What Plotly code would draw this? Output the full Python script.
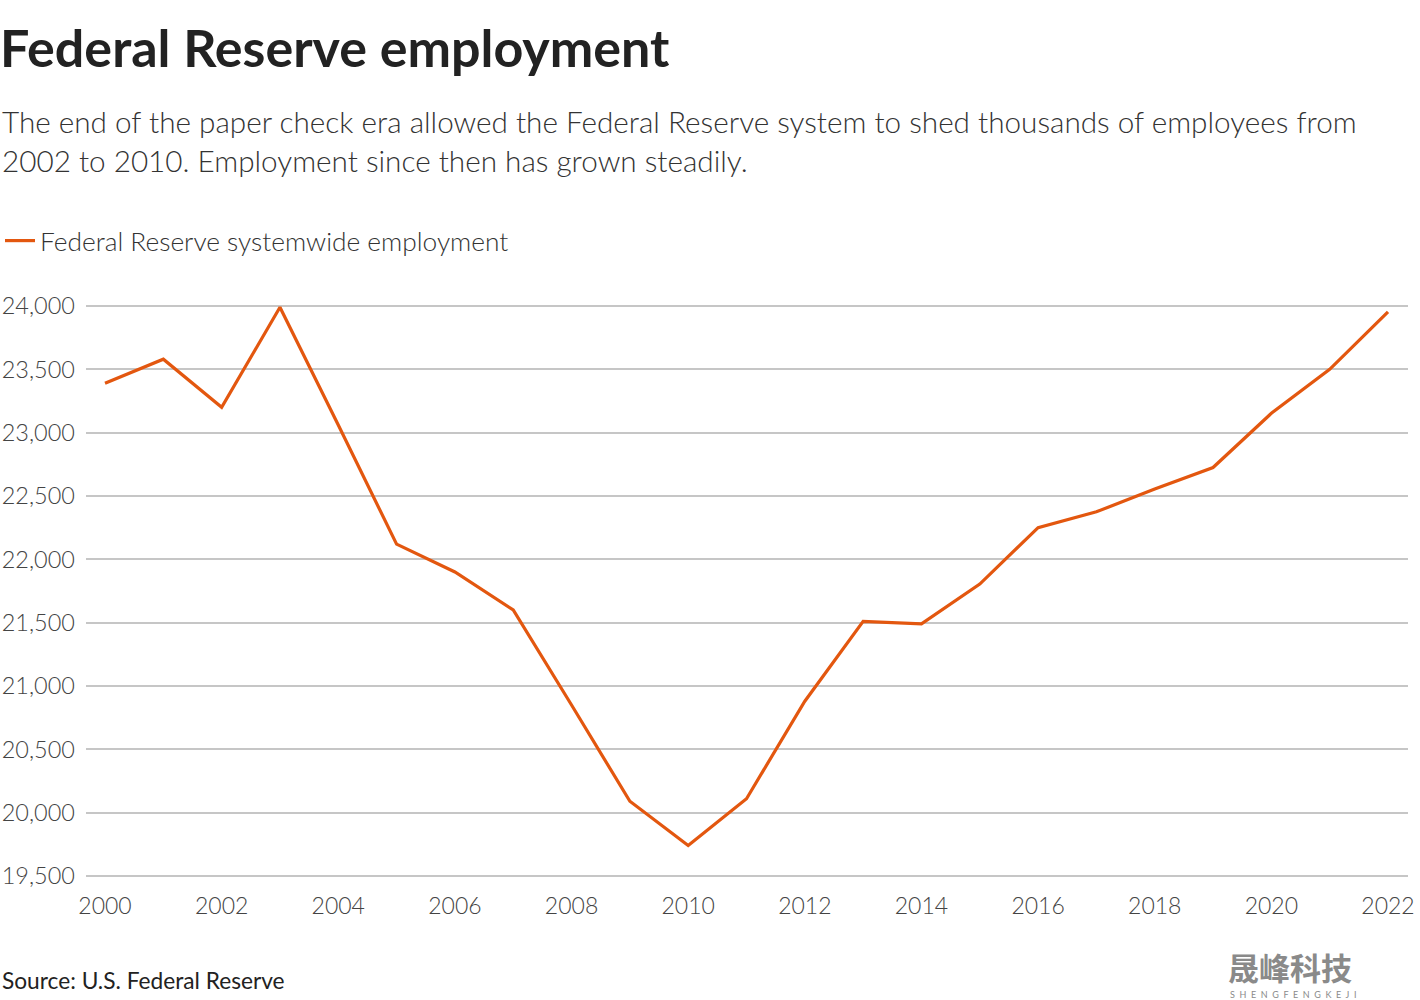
import plotly.graph_objects as go

years = list(range(2000, 2023))
employment = [23390, 23580, 23200, 23990, 23060, 22120, 21900, 21600, 20850, 20090,
              19740, 20110, 20880, 21510, 21490, 21805, 22250, 22375, 22555, 22725,
              23153, 23500, 23953]
series_name = "Federal Reserve systemwide employment"
y_ticks = list(range(19500, 24001, 500))
x_ticks = list(range(2000, 2023, 2))

title_text = "Federal Reserve employment"
subtitle_text = ("The end of the paper check era allowed the Federal Reserve system to shed thousands of employees from"
                 "<br>2002 to 2010. Employment since then has grown steadily.")
source_text = "Source: U.S. Federal Reserve"

FONT = "Lato"
W, H = 1420, 1000
L, R, T, B = 86, 12, 305, 123
pw = W - L - R
ph = H - T - B

def px_x(px):
    return (px - L) / pw

def px_y(py):
    return (H - B - py) / ph

fig = go.Figure()
fig.add_trace(go.Scatter(
    x=years, y=employment, mode="lines", name=series_name,
    line=dict(color="#E3570F", width=3.2), showlegend=True,
))

fig.update_layout(
    width=W, height=H,
    margin=dict(l=L, r=R, t=T, b=B, autoexpand=False),
    paper_bgcolor="white", plot_bgcolor="white",
    font=dict(family=FONT, color="#333333"),
    title=dict(text=title_text, x=0, xref="container", xanchor="left",
               y=1 - 49 / H, yref="container", yanchor="middle",
               font=dict(family=FONT, size=52, color="#222222", weight=700)),
    legend=dict(x=0, xref="container", xanchor="left",
                y=1 - 241 / H, yref="container", yanchor="middle",
                orientation="h", font=dict(size=26.3, color="#333333", weight=300),
                bgcolor="rgba(0,0,0,0)", itemwidth=30),
    xaxis=dict(range=[1999.674, 2022.343], tickvals=x_ticks, showgrid=False,
               zeroline=False, showline=False, ticks="", automargin=False,
               tickfont=dict(size=23, color="#444444", weight=300), ticklabelstandoff=13),
    yaxis=dict(range=[19492, 24008], tickvals=y_ticks, tickformat=",",
               showgrid=True, gridcolor="#c6c6c6", gridwidth=1.6,
               zeroline=False, showline=False, ticks="", automargin=False,
               tickfont=dict(size=23.5, color="#444444", weight=300), ticklabelstandoff=10),
    showlegend=True,
)

fig.add_annotation(text=subtitle_text, xref="paper", yref="paper",
                   x=px_x(0), y=px_y(102), xanchor="left", yanchor="top", align="left",
                   showarrow=False,
                   font=dict(family=FONT, size=29.7, color="#333333", weight=300))
fig.add_annotation(text=source_text, xref="paper", yref="paper",
                   x=px_x(0), y=px_y(980), xanchor="left", yanchor="middle",
                   showarrow=False, font=dict(family=FONT, size=22.7, color="#222222"))
fig.add_annotation(text="晟峰科技", xref="paper", yref="paper",
                   x=px_x(1227), y=px_y(966), xanchor="left", yanchor="middle",
                   showarrow=False, borderpad=0,
                   font=dict(family="Noto Sans CJK SC", size=31, color="#8a8a8a", weight=700))
fig.add_annotation(text="S  H  E  N  G  F  E  N  G  K  E  J  I", xref="paper", yref="paper",
                   x=px_x(1229), y=px_y(994), xanchor="left", yanchor="middle",
                   showarrow=False, borderpad=0,
                   font=dict(family=FONT, size=9, color="#8a8a8a"))

fig.write_html("out.html", config={"displayModeBar": False},
               post_script="document.body.style.margin='0';")
